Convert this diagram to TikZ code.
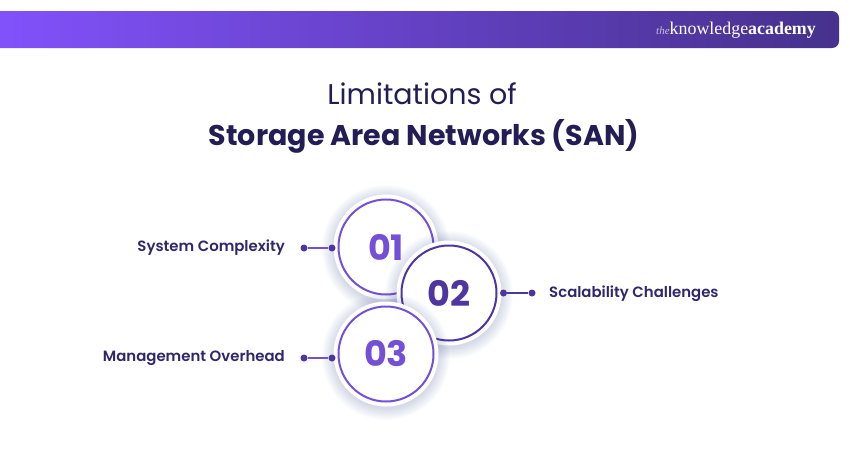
\documentclass[tikz,border=0pt]{standalone}
\usepackage{fontspec}
\setmainfont{Poppins}
\newfontfamily\logofont{Liberation Serif}
\newfontfamily\labelfont{Poppins SemiBold}
\usetikzlibrary{positioning}
\definecolor{barleft}{HTML}{8352FD}
\definecolor{barmid}{HTML}{6440BE}
\definecolor{barright}{HTML}{46318C}
\definecolor{titleink}{HTML}{231C55}
\definecolor{labelink}{HTML}{30266B}
\definecolor{ringa}{HTML}{7450D6}
\definecolor{ringb}{HTML}{4E35A0}
\definecolor{halo}{HTML}{5A6AA8}
\tikzset{
     ring/.style={circle,draw=#1,line width=2pt,minimum size=95pt,inner sep=0pt,
          font=\bfseries\fontsize{35}{35}\selectfont,text=#1},
     dot/.style={circle,fill=#1,minimum size=7pt,inner sep=0pt},
     stem/.style={line width=1.8pt,draw=#1},
     label/.style={font=\labelfont\fontsize{14.9}{16}\selectfont,text=labelink},
}
% one disc with its soft shadow
\newcommand{\discat}[2]{
     \foreach \r in {64,63,...,53}{
          \fill[halo,opacity=0.02] (#1,#2+2) circle (\r pt);
     }
     \fill[white] (#1,#2) circle (52.5pt);
}
\begin{document}
\begin{tikzpicture}[x=1pt,y=-1pt]
     \useasboundingbox (0,0) rectangle (850,450);
     \fill[white] (0,0) rectangle (850,450);

     % header bar
     \path[left color=barleft,middle color=barmid,right color=barright,rounded corners=7pt]
          (-20,11) rectangle (839,48);
     \node[anchor=east,inner sep=0pt,text=white,font=\logofont\fontsize{17.9}{18}\selectfont] (logo) at (816,30)
          {{\itshape\fontsize{11}{12}\selectfont\color{white!70!barright}the}knowledge\textbf{academy}};

     % title
     \node[text=titleink,inner sep=0pt,font=\fontsize{28.5}{30}\selectfont] (title1) at (422,94) {Limitations of};
     \node[text=titleink,inner sep=0pt,font=\bfseries\fontsize{28.5}{30}\selectfont] (title2) at (424,136) {Storage Area Networks (SAN)};

     % circles
     \discat{386}{247}
     \node[ring=ringa] (c1) at (386,247) {01};
     \discat{449}{293}
     \node[ring=ringb] (c2) at (449,293) {02};
     \discat{386}{354}
     \node[ring=ringa] (c3) at (386,354) {03};

     % connectors
     \node[dot=ringb] (d1a) at (304,248) {};
     \node[dot=ringb] (d1b) at (332,248) {};
     \node[dot=ringb] (d2a) at (503.5,293) {};
     \node[dot=ringb] (d2b) at (532,293) {};
     \node[dot=ringb] (d3a) at (304,358) {};
     \node[dot=ringb] (d3b) at (332,358) {};
     \draw[stem=ringa] (d1a) -- (d1b);
     \draw[stem=ringb] (d2a) -- (d2b);
     \draw[stem=ringa] (d3a) -- (d3b);

     % labels
     \node[label,anchor=east,inner sep=0pt] (t1) at (285,247.5) {System Complexity};
     \node[label,anchor=west,inner sep=0pt] (t2) at (549,293.5) {Scalability Challenges};
     \node[label,anchor=east,inner sep=0pt] (t3) at (285,358.5) {Management Overhead};
\end{tikzpicture}
\end{document}
